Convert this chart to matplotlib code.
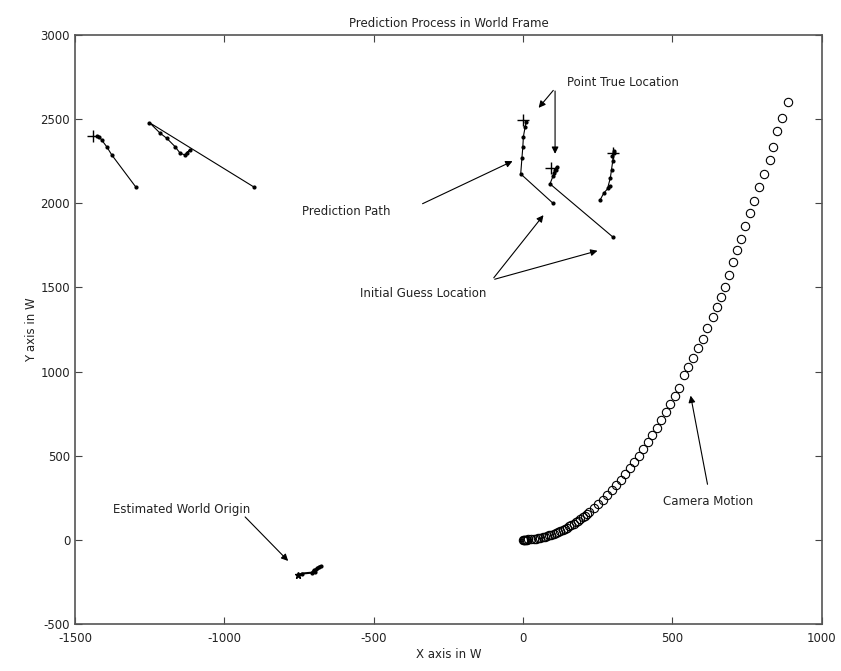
import matplotlib.pyplot as plt

plt.rcParams['axes.unicode_minus'] = False

# camera positions (circles)
cam_x = [0, 2, 4, 6, 9, 12, 18, 27, 35, 42, 50, 57, 65, 72, 80, 87, 95, 102,
         110, 117, 125, 132, 140, 147, 155, 162, 170, 177, 185, 192, 200, 207,
         215, 222, 237, 252, 267, 282, 297, 312, 327, 342, 357, 372, 387, 402,
         417, 432, 447, 462, 477, 492, 507, 522, 537, 553, 570, 587, 602, 617,
         635, 649, 662, 676, 690, 702, 716, 730, 743, 760, 774, 791, 807, 825,
         836, 851, 866, 886]
cam_y = [0, 0, 0, 1, 1, 2, 3, 4, 6, 8, 10, 12, 15, 18, 22, 26, 31, 36,
         41, 46, 52, 59, 66, 73, 80, 88, 96, 105, 114, 123, 133, 143,
         154, 165, 188, 213, 239, 266, 295, 325, 357, 390, 425, 461, 499, 539,
         580, 622, 665, 710, 757, 806, 855, 905, 980, 1029, 1079, 1138, 1192,
         1257, 1326, 1386, 1445, 1504, 1574, 1649, 1722, 1788, 1867, 1940, 2015,
         2099, 2174, 2257, 2336, 2430, 2505, 2604]

# prediction paths of the tracked points (first point = initial guess)
path1_x = [-1296, -1377, -1394, -1411, -1419, -1425]
path1_y = [2095, 2287, 2336, 2376, 2396, 2400]
path2_x = [-900, -1251, -1215, -1193, -1165, -1148, -1132, -1115, -1125]
path2_y = [2095, 2479, 2416, 2386, 2336, 2297, 2287, 2317, 2300]
path3_x = [100, -8, -4, -1, 1, 7, 10]
path3_y = [2000, 2174, 2267, 2333, 2396, 2455, 2480]
path4_x = [300, 90, 100, 107, 112, 103, 110]
path4_y = [1800, 2115, 2160, 2198, 2215, 2180, 2200]
path5_x = [258, 270, 290, 283, 292, 296, 300, 303, 298, 305]
path5_y = [2020, 2060, 2100, 2090, 2150, 2200, 2250, 2300, 2280, 2310]

# true point locations
true_x = [-1440, 0, 95, 302]
true_y = [2400, 2495, 2210, 2297]

# estimated world origin
origin_x = [-752, -740, -708, -700, -690, -684, -676, -695]
origin_y = [-209, -200, -195, -180, -170, -160, -155, -190]

plt.figure(figsize=(8.41, 6.71), dpi=100)
ax = plt.axes([0.0892, 0.070, 0.888, 0.878])

ax.plot(cam_x, cam_y, 'o', color='black', mfc='none', ms=6, mew=0.8)
for px, py in [(path1_x, path1_y), (path2_x, path2_y), (path3_x, path3_y),
               (path4_x, path4_y), (path5_x, path5_y)]:
    ax.plot(px, py, '-', color='black', lw=0.8, marker='.', ms=4)
ax.plot(true_x, true_y, '+', color='black', ms=8, mew=1)
ax.plot(origin_x, origin_y, '-', color='black', lw=1.5, marker='.', ms=4)
ax.plot(origin_x[0], origin_y[0], '*', color='black', ms=5)

arrow = dict(arrowstyle='-|>', color='black', lw=0.8, mutation_scale=10)
fs = 8.5
tc = '#222222'
ax.annotate('', xy=(46, 2554), xytext=(107, 2683), arrowprops=arrow)
ax.annotate('', xy=(107, 2277), xytext=(107, 2683), arrowprops=arrow)
ax.text(147, 2715, 'Point True Location', fontsize=fs, va='center', color=tc)
ax.annotate('', xy=(-27, 2257), xytext=(-345, 1990), arrowprops=arrow)
ax.text(-740, 1948, 'Prediction Path', fontsize=fs, va='center', color=tc)
ax.annotate('', xy=(74, 1942), xytext=(-104, 1544), arrowprops=arrow)
ax.annotate('', xy=(258, 1722), xytext=(-104, 1544), arrowprops=arrow)
ax.text(-546, 1461, 'Initial Guess Location', fontsize=fs, va='center', color=tc)
ax.annotate('', xy=(-780, -137), xytext=(-937, 148), arrowprops=arrow)
ax.text(-1373, 178, 'Estimated World Origin', fontsize=fs, va='center', color=tc)
ax.annotate('', xy=(559, 873), xytext=(619, 314), arrowprops=arrow)
ax.text(619, 225, 'Camera Motion', fontsize=fs, va='center', ha='center', color=tc)

ax.set_xlim(-1500, 1000)
ax.set_ylim(-500, 3000)
ax.set_xticks(range(-1500, 1001, 500))
ax.set_yticks(range(-500, 3001, 500))
ax.tick_params(direction='in', top=True, right=True, labelsize=fs, length=5,
               color='#444444', labelcolor=tc)
ax.tick_params(axis='x', pad=6)
for s in ax.spines.values():
    s.set_color('#555555')
    s.set_linewidth(1.2)
ax.set_title('Prediction Process in World Frame', fontsize=fs, color=tc)
ax.set_xlabel('X axis in W', fontsize=fs, labelpad=2, color=tc)
ax.set_ylabel('Y axis in W', fontsize=fs, labelpad=2, color=tc)

plt.savefig('out.png', dpi=100)
